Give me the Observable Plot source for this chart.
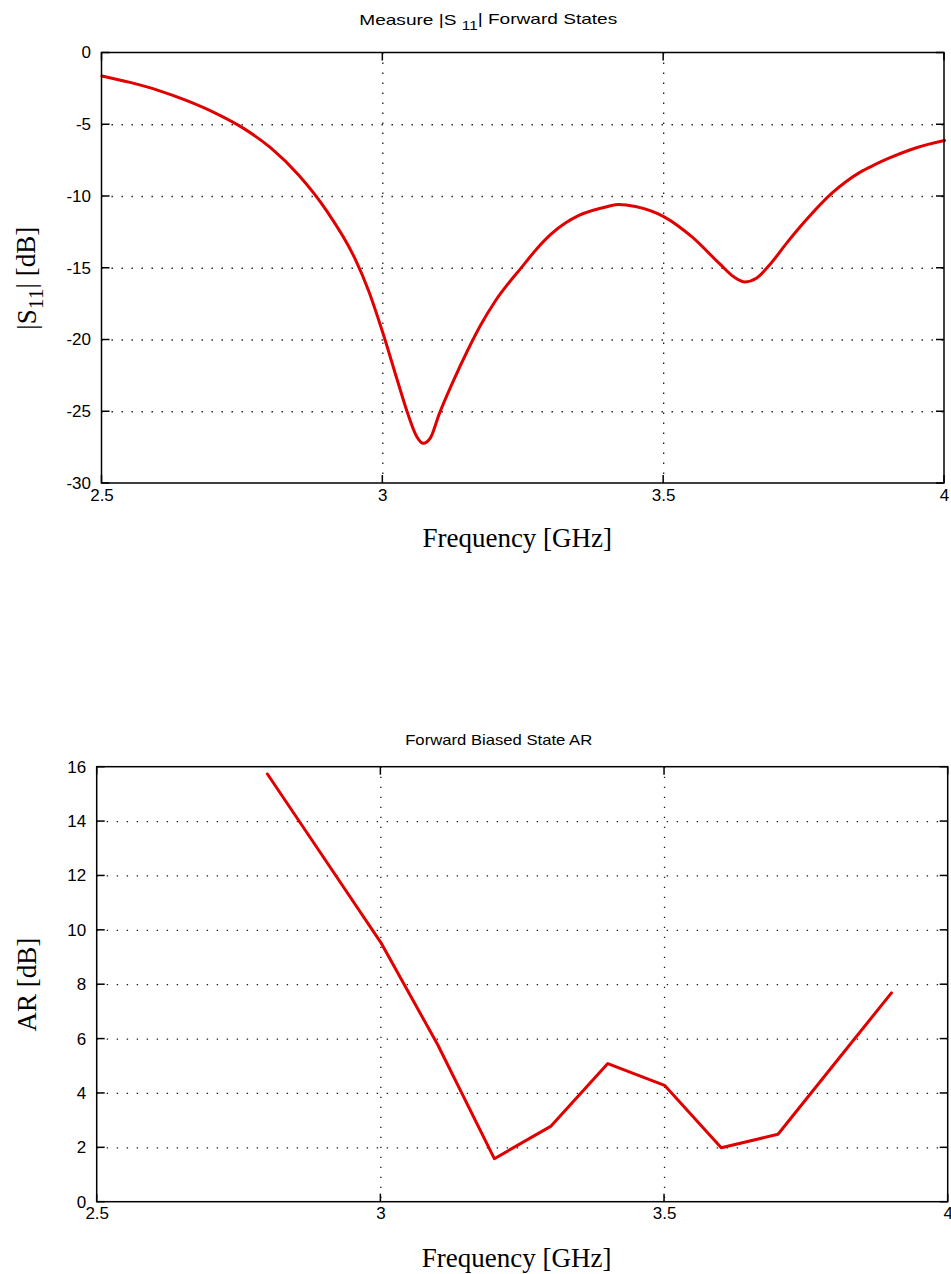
<!DOCTYPE html>
<html><head><meta charset="utf-8">
<script src="https://cdn.jsdelivr.net/npm/d3@7"></script>
<script src="https://cdn.jsdelivr.net/npm/@observablehq/plot@0.6"></script>
<style>body{margin:0;background:#fff} svg{display:block}</style>
</head><body><div id="c"></div>
<script>
// ---- data ----
const s11Freq = [2.50, 2.55, 2.60, 2.65, 2.70, 2.75, 2.80, 2.85, 2.90, 2.95, 2.975, 3.00, 3.025, 3.045, 3.06, 3.072, 3.085, 3.10, 3.125, 3.15, 3.175, 3.20, 3.25, 3.275, 3.30, 3.325, 3.35, 3.40, 3.42, 3.45, 3.50, 3.55, 3.60, 3.625, 3.645, 3.665, 3.69, 3.72, 3.75, 3.80, 3.825, 3.85, 3.875, 3.90, 3.95, 4.00];
const s11Db   = [-1.6, -2.05, -2.6, -3.3, -4.15, -5.2, -6.6, -8.5, -11.0, -14.3, -16.6, -19.5, -22.7, -25.2, -26.7, -27.2, -26.8, -25.2, -22.9, -20.8, -18.9, -17.3, -14.8, -13.6, -12.6, -11.85, -11.3, -10.7, -10.55, -10.7, -11.4, -12.8, -14.7, -15.6, -15.95, -15.7, -14.7, -13.2, -11.8, -9.75, -8.95, -8.3, -7.8, -7.35, -6.6, -6.1];
const arFreq = [2.8, 2.9, 3.0, 3.1, 3.2, 3.3, 3.4, 3.5, 3.6, 3.7, 3.8, 3.9];
const arDb   = [15.75, 12.65, 9.55, 5.8, 1.6, 2.8, 5.1, 4.3, 2.0, 2.5, 5.1, 7.7];
const xTicks = [2.5, 3, 3.5, 4];
const s11Ticks = [0, -5, -10, -15, -20, -25, -30];
const arTicks = [0, 2, 4, 6, 8, 10, 12, 14, 16];

function makeChart(o) {
  const W = 951;
  const data = o.freq.map((f, i) => ({f, v: o.vals[i]}));
  const grid = {stroke: "#000", strokeWidth: 1.3, strokeDasharray: "1.4,8.6", strokeOpacity: 0.9};
  const serif = "Liberation Serif, Times New Roman, serif";
  const p = Plot.plot({
    width: W, height: o.h,
    marginLeft: o.ml, marginRight: o.mr, marginTop: o.mt, marginBottom: o.mb,
    style: {fontFamily: "Liberation Sans, Arial, sans-serif", fontSize: "17px", color: "#000", background: "#fff", overflow: "visible"},
    x: {domain: [2.5, 4], ticks: xTicks, tickSize: 0, tickPadding: 5, tickFormat: d => String(d), label: null},
    y: {domain: o.yDomain, ticks: o.yTicks, tickSize: 0, tickPadding: 11, tickFormat: d => String(d), label: null},
    marks: [
      Plot.ruleX(xTicks.slice(1, -1), {x: d => d, ...grid}),
      Plot.ruleY(o.yTicks.slice(1, -1), {y: d => d, ...grid}),
      Plot.line(data, {x: "f", y: "v", stroke: "#e00000", strokeWidth: 3, curve: o.curve}),
      Plot.text([o.title], {text: d => d, frameAnchor: "top", textAnchor: "middle", lineAnchor: "middle", dx: o.titleDx, dy: o.titleY - o.mt, fontSize: 15, fontFamily: "Liberation Sans, Arial, sans-serif", ariaLabel: () => "title"}),
      Plot.text([o.ylabel], {text: d => d, frameAnchor: "left", textAnchor: "middle", lineAnchor: "middle", rotate: -90, dx: 27 - o.ml, dy: o.ylabDy, fontFamily: serif, fontSize: 27, ariaLabel: () => "ylabel"}),
      Plot.text(["Frequency [GHz]"], {text: d => d, frameAnchor: "bottom", textAnchor: "middle", lineAnchor: "middle", dx: -6, dy: o.xlabY - (o.h - o.mb), fontFamily: serif, fontSize: 27, ariaLabel: () => "xlabel"})
    ]
  });
  const svg = d3.select(p);
  // box and inward ticks, positioned through the plot's own scales
  const xs = p.scale("x"), ys = p.scale("y");
  const X0 = xs.apply(2.5), X1 = xs.apply(4);
  const Yb = ys.apply(o.yDomain[0]), Yt = ys.apply(o.yDomain[1]);
  const g = svg.append("g").attr("stroke", "#000").attr("stroke-width", 1.5).attr("fill", "none");
  g.append("rect").attr("x", X0).attr("y", Yt).attr("width", X1 - X0).attr("height", Yb - Yt);
  const L = 8;
  xTicks.forEach(v => {
    const X = xs.apply(v);
    g.append("line").attr("x1", X).attr("x2", X).attr("y1", Yb).attr("y2", Yb - L);
    g.append("line").attr("x1", X).attr("x2", X).attr("y1", Yt).attr("y2", Yt + L);
  });
  o.yTicks.forEach(v => {
    const Y = ys.apply(v);
    g.append("line").attr("y1", Y).attr("y2", Y).attr("x1", X0).attr("x2", X0 + L);
    g.append("line").attr("y1", Y).attr("y2", Y).attr("x1", X1).attr("x2", X1 - L);
  });
  // subscripts
  const sub = (t, parts, k) => {
    t.text(null);
    parts.forEach(([s, f]) => {
      t.append("tspan").attr("dy", f === true ? k + "em" : (f === false ? (-k) + "em" : null)).attr("font-size", f === true ? "0.8em" : null).text(s);
    });
  };
  const title = svg.select('text[aria-label="title"]');
  if (o.titleParts) sub(title, o.titleParts, 0.35);
  title.attr("textLength", o.titleLen).attr("lengthAdjust", "spacingAndGlyphs");
  if (o.ylabParts) sub(svg.select('text[aria-label="ylabel"]'), o.ylabParts, 0.3);
  return p;
}

const c = document.getElementById("c");
c.appendChild(makeChart({
  freq: s11Freq, vals: s11Db, yDomain: [-30, 0], yTicks: s11Ticks, curve: "monotone-x",
  h: 637, ml: 101.5, mr: 7, mt: 52.5, mb: 154,
  title: "Measure |S 11| Forward States", titleDx: -35, titleY: 20, titleLen: 258,
  titleParts: [["Measure |S "], ["11", true], ["| Forward States", false]],
  ylabel: "|S11| [dB]", ylabDy: 10,
  ylabParts: [["|S"], ["11", true], ["| [dB]", false]],
  xlabY: 538
}));
c.appendChild(makeChart({
  freq: arFreq, vals: arDb, yDomain: [0, 16], yTicks: arTicks, curve: "linear",
  h: 637, ml: 96.7, mr: 3.3, mt: 129.7, mb: 72.3,
  title: "Forward Biased State AR", titleDx: -24, titleY: 103, titleLen: 187,
  ylabel: "AR [dB]", ylabDy: 0,
  xlabY: 621
}));
</script>
</body></html>
